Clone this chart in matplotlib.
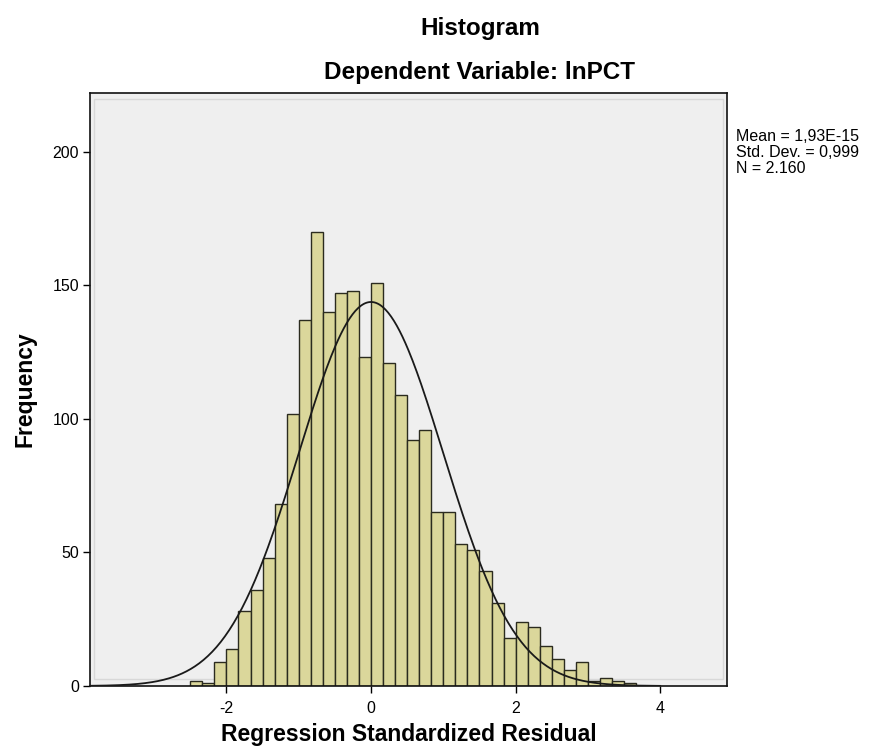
import numpy as np
import matplotlib
matplotlib.use("Agg")
import matplotlib.pyplot as plt

plt.rcParams["font.family"] = ["Liberation Sans", "DejaVu Sans"]
plt.rcParams["axes.unicode_minus"] = False

# ── Histogram counts (bin width 1/6, first edge at -2.5) ─────────────────────
bin_width = 1 / 6
first_edge = -2.5
counts = [2, 1, 9, 14, 28, 36, 48, 68, 102, 137, 170, 140, 147, 148, 123,
          151, 121, 109, 92, 96, 65, 65, 53, 51, 43, 31, 18, 24, 22, 15, 10,
          6, 9, 2, 3, 2, 1]

mean_val = 1.93e-15
std_val = 0.999
n_val = 2160

x_ticks = [-2, 0, 2, 4]
y_ticks = [0, 50, 100, 150, 200]

bar_color = "#dbd79b"
edge_color = "#2b2b1f"
panel_color = "#efefef"

fig = plt.figure(figsize=(8.7, 7.53), dpi=100)
ax = fig.add_axes([90 / 870, 1 - 686 / 753, (727 - 90) / 870, (686 - 93) / 753])
ax.set_facecolor(panel_color)

lefts = first_edge + bin_width * np.arange(len(counts))
ax.bar(lefts, counts, width=bin_width, align="edge", color=bar_color,
       edgecolor=edge_color, linewidth=1.0, zorder=2)

# Normal curve scaled to counts
xs = np.linspace(-3.9, 4.0, 400)
pdf = np.exp(-0.5 * ((xs - mean_val) / std_val) ** 2) / (std_val * np.sqrt(2 * np.pi))
ax.plot(xs, n_val * bin_width * pdf, color="#1a1a1a", lw=1.3, zorder=3)

ax.set_xlim(-3.887, 4.924)
ax.set_ylim(0, 222)
ax.set_xticks(x_ticks)
ax.set_yticks(y_ticks)
ax.tick_params(axis="both", direction="out", length=5, width=1, labelsize=11.5,
               colors="black")
ax.tick_params(axis="x", pad=6)
ax.tick_params(axis="y", pad=3)
for s in ax.spines.values():
    s.set_linewidth(1.2)
    s.set_color("#111111")

# faint inner border of the panel
ax.add_patch(plt.Rectangle((0.006, 0.012), 0.988, 0.978, transform=ax.transAxes,
                           fill=False, ec="#d8d8d8", lw=1.0, zorder=1))

ax.set_xlabel("Regression Standardized Residual", fontsize=16.5,
              fontweight="bold", labelpad=5)
ax.set_ylabel("Frequency", fontsize=16.5, fontweight="bold", labelpad=11)

fig.text(480 / 870, 1 - 28 / 753, "Histogram", ha="center", va="center",
         fontsize=17.5, fontweight="bold")
fig.text(480 / 870, 1 - 72 / 753, "Dependent Variable: lnPCT", ha="center",
         va="center", fontsize=17.5, fontweight="bold")

fig.text(736 / 870, 1 - 129 / 753,
         "Mean = 1,93E-15\nStd. Dev. = 0,999\nN = 2.160",
         ha="left", va="top", fontsize=11.5, linespacing=1.1)

fig.savefig("out.png", dpi=100, facecolor="white")
